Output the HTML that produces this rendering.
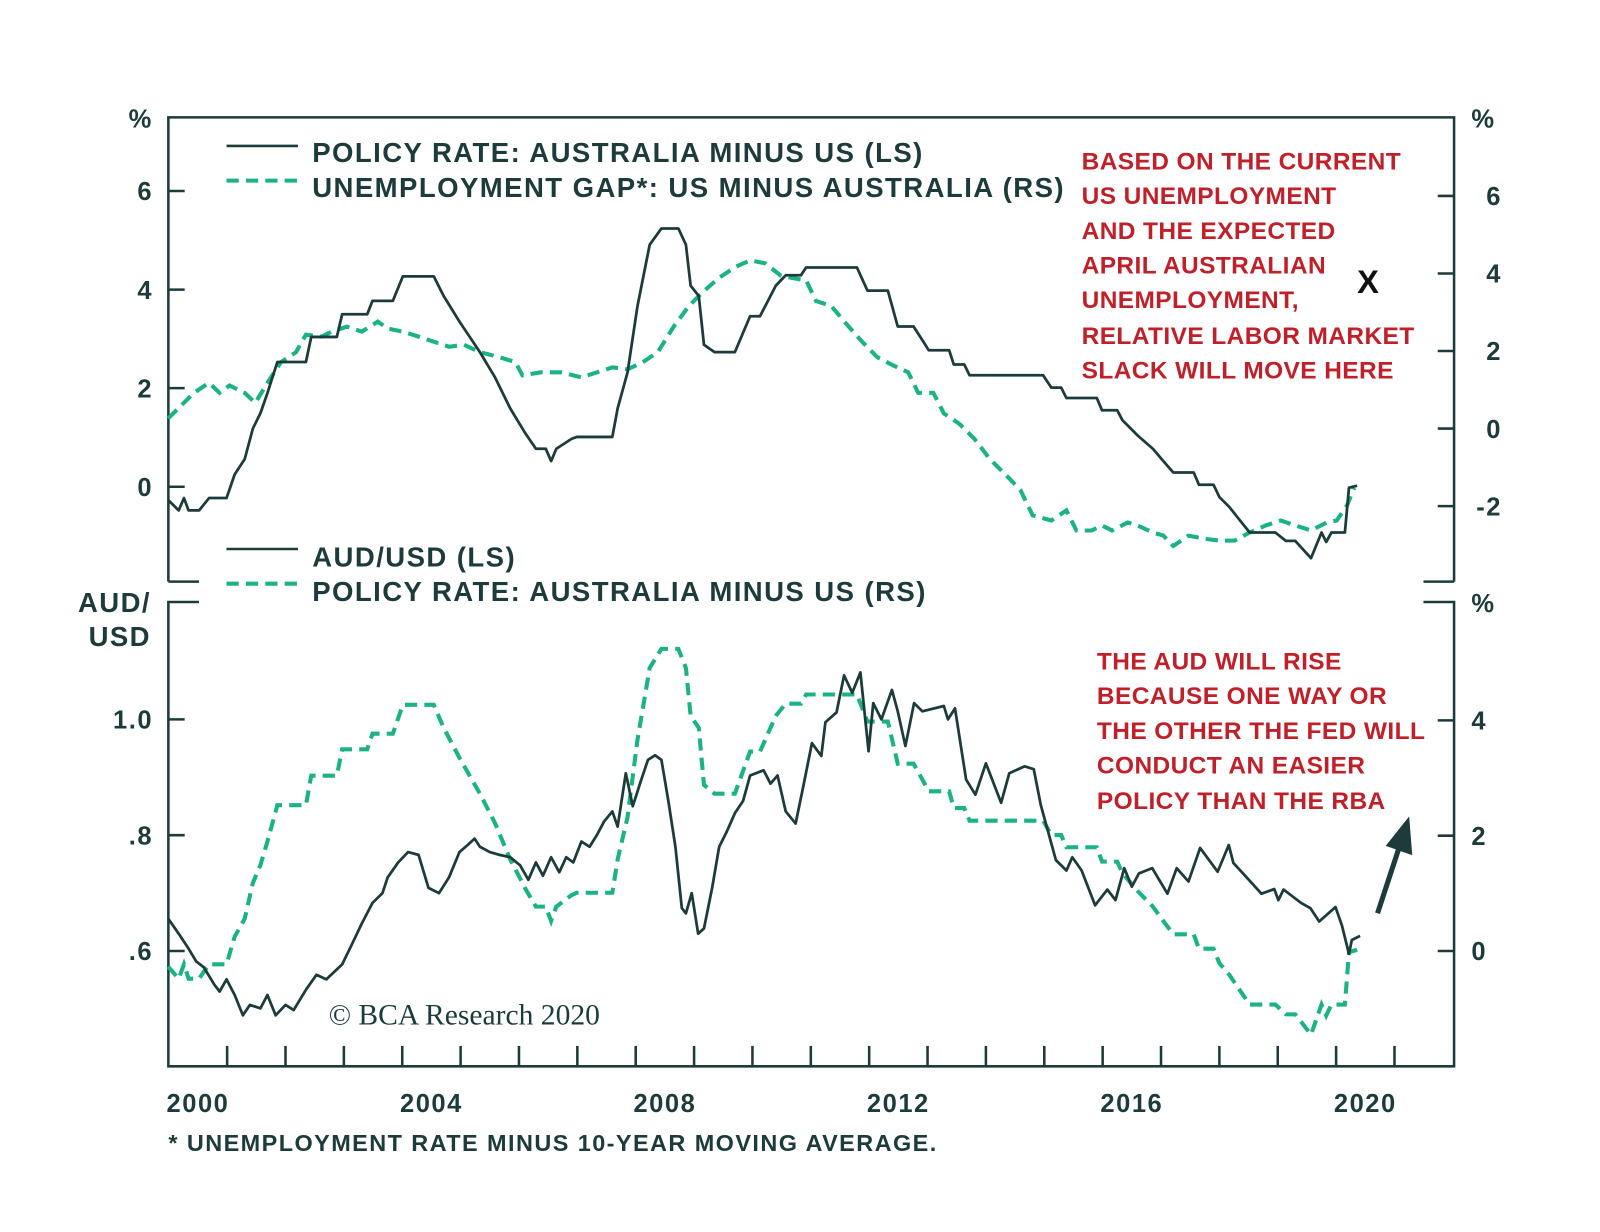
<!DOCTYPE html>
<html><head><meta charset="utf-8"><style>
html,body{margin:0;padding:0;background:#fff;}
svg{display:block;font-family:"Liberation Sans",Arial,sans-serif;}
.tk{font-size:25px;font-weight:bold;fill:#1d3b3b;letter-spacing:1.5px;}
.lg{font-size:27px;font-weight:bold;fill:#1d3b3b;letter-spacing:1.4px;}
.an{font-size:24px;font-weight:bold;fill:#c0202a;letter-spacing:0.4px;}
</style></head><body>
<svg id="chart" width="1600" height="1232" viewBox="0 0 1600 1232">
<g transform="scale(1.0204)">
<g id="frame" stroke="#1d3b3b" stroke-width="2.5" fill="none">
 <path d="M165,570 L165,115 L1425,115 L1425,570 M1395,570 L1425,570 M165,570 L195,570"/>
 <path d="M195,590 L165,590 L165,1045 L1425,1045 L1425,590 L1395,590"/>
</g>
<g id="ticks" stroke="#1d3b3b" stroke-width="2.5"></g>
<g id="labels"></g>
<g id="series"></g>
<text class="tk" x="126" y="125">%</text>
<text class="tk" x="1442" y="125">%</text>
<text class="tk" x="1442" y="600">%</text>
<text class="lg" x="148" y="600" text-anchor="end">AUD/</text>
<text class="lg" x="148" y="633" text-anchor="end">USD</text>
<g>
 <line x1="222" y1="143" x2="292" y2="143" stroke="#1d3b3b" stroke-width="2.5"/>
 <text class="lg" x="306" y="159">POLICY RATE: AUSTRALIA MINUS US (LS)</text>
 <line x1="222" y1="177" x2="292" y2="177" stroke="#1bb286" stroke-width="4" stroke-dasharray="12,7"/>
 <text class="lg" x="306" y="193">UNEMPLOYMENT GAP*: US MINUS AUSTRALIA (RS)</text>
</g>
<g>
 <line x1="222" y1="538" x2="292" y2="538" stroke="#1d3b3b" stroke-width="2.5"/>
 <text class="lg" x="306" y="555">AUD/USD (LS)</text>
 <line x1="222" y1="572" x2="292" y2="572" stroke="#1bb286" stroke-width="4" stroke-dasharray="12,7"/>
 <text class="lg" x="306" y="589">POLICY RATE: AUSTRALIA MINUS US (RS)</text>
</g>
<g>
 <text class="an" x="1060" y="166">BASED ON THE CURRENT</text>
 <text class="an" x="1060" y="200">US UNEMPLOYMENT</text>
 <text class="an" x="1060" y="234">AND THE EXPECTED</text>
 <text class="an" x="1060" y="268">APRIL AUSTRALIAN</text>
 <text class="an" x="1060" y="302">UNEMPLOYMENT,</text>
 <text class="an" x="1060" y="337">RELATIVE LABOR MARKET</text>
 <text class="an" x="1060" y="371">SLACK WILL MOVE HERE</text>
</g>
<text x="1330" y="287" font-size="32" font-weight="bold" fill="#111">X</text>
<g>
 <text class="an" x="1075" y="656">THE AUD WILL RISE</text>
 <text class="an" x="1075" y="690">BECAUSE ONE WAY OR</text>
 <text class="an" x="1075" y="724">THE OTHER THE FED WILL</text>
 <text class="an" x="1075" y="758">CONDUCT AN EASIER</text>
 <text class="an" x="1075" y="793">POLICY THAN THE RBA</text>
</g>
<g>
 <line x1="1350" y1="895" x2="1372" y2="828" stroke="#1d3b3b" stroke-width="5"/>
 <polygon points="1381,800 1384,838 1358,829" fill="#1d3b3b"/>
</g>
<text x="322" y="1004" font-family="'Liberation Serif',serif" font-size="29" fill="#1d3b3b">© BCA Research 2020</text>
<text x="165" y="1128" font-size="23" font-weight="bold" fill="#1d3b3b" letter-spacing="1.4">* UNEMPLOYMENT RATE MINUS 10-YEAR MOVING AVERAGE.</text>
</g>
</svg>
<script>
const xYears=[2000,2004,2008,2012,2016,2020];
const topLeftTicks=[0,2,4,6];
const topRightTicks=[-2,0,2,4,6];
const botLeftTicks=[0.6,0.8,1.0];
const botLeftLabels=['.6','.8','1.0'];
const botRightTicks=[0,2,4];
const policyDates=[1999.49,1999.67,1999.76,1999.84,2000.02,2000.19,2000.49,2000.63,2000.80,2000.94,2001.07,2001.19,2001.36,2001.85,2001.94,2002.38,2002.47,2002.90,2002.99,2003.34,2003.51,2004.04,2004.21,2004.48,2004.83,2005.09,2005.35,2005.61,2005.79,2005.96,2006.05,2006.14,2006.40,2006.49,2007.10,2007.19,2007.36,2007.53,2007.74,2007.94,2008.23,2008.36,2008.44,2008.58,2008.67,2008.85,2009.20,2009.46,2009.63,2009.90,2010.07,2010.33,2010.42,2011.29,2011.47,2011.82,2011.99,2012.26,2012.43,2012.52,2012.87,2012.95,2013.13,2013.22,2014.48,2014.62,2014.79,2014.88,2015.40,2015.49,2015.75,2015.84,2016.10,2016.36,2016.54,2016.71,2017.06,2017.15,2017.40,2017.50,2017.67,2017.85,2018.02,2018.46,2018.64,2018.80,2019.07,2019.25,2019.33,2019.42,2019.65,2019.72,2019.86];
const policyValues=[-0.27,-0.48,-0.23,-0.48,-0.48,-0.23,-0.23,0.25,0.56,1.18,1.49,1.9,2.53,2.53,3.04,3.04,3.5,3.5,3.77,3.77,4.27,4.27,3.87,3.35,2.73,2.22,1.59,1.08,0.77,0.77,0.52,0.77,0.97,1.01,1.01,1.59,2.32,3.66,4.91,5.24,5.24,4.91,4.08,3.87,2.88,2.73,2.73,3.46,3.46,4.08,4.29,4.29,4.45,4.45,3.98,3.98,3.25,3.25,2.94,2.77,2.77,2.48,2.48,2.26,2.26,2.01,2.01,1.80,1.80,1.55,1.55,1.35,1.04,0.77,0.52,0.29,0.29,0.04,0.04,-0.21,-0.41,-0.68,-0.93,-0.93,-1.1,-1.1,-1.45,-0.93,-1.12,-0.93,-0.93,-0.02,0.02];
const gapDates=[1999.49,1999.67,1999.93,2000.19,2000.37,2000.54,2000.80,2000.98,2001.19,2001.42,2001.68,2001.85,2002.12,2002.29,2002.55,2002.81,2003.08,2003.25,2003.51,2003.78,2004.04,2004.30,2004.56,2004.83,2005.17,2005.44,2005.56,2005.87,2006.22,2006.57,2006.84,2007.10,2007.36,2007.62,2007.88,2008.15,2008.41,2008.67,2008.93,2009.20,2009.46,2009.72,2009.98,2010.16,2010.42,2010.59,2010.85,2011.12,2011.38,2011.64,2011.91,2012.17,2012.34,2012.60,2012.78,2013.04,2013.30,2013.57,2013.83,2014.09,2014.30,2014.62,2014.88,2015.05,2015.31,2015.49,2015.66,2015.93,2016.10,2016.36,2016.54,2016.71,2016.97,2017.24,2017.50,2017.76,2018.02,2018.29,2018.55,2018.81,2019.07,2019.34,2019.51,2019.69,2019.81];
const gapValues=[0.26,0.53,0.92,1.18,0.92,1.11,0.92,0.66,1.18,1.71,1.97,2.42,2.37,2.50,2.63,2.50,2.76,2.58,2.50,2.37,2.24,2.11,2.16,1.97,1.84,1.71,1.37,1.45,1.45,1.32,1.45,1.58,1.53,1.71,1.97,2.63,3.16,3.55,3.89,4.16,4.34,4.26,3.95,3.89,3.82,3.29,3.16,2.68,2.24,1.84,1.63,1.45,0.92,0.92,0.39,0.13,-0.26,-0.79,-1.18,-1.58,-2.24,-2.37,-2.11,-2.63,-2.63,-2.50,-2.63,-2.42,-2.50,-2.68,-2.76,-3.03,-2.76,-2.84,-2.89,-2.89,-2.68,-2.50,-2.37,-2.50,-2.63,-2.42,-2.37,-1.97,-1.53];
const audDates=[1999.49,1999.67,1999.84,1999.97,2000.10,2000.28,2000.37,2000.49,2000.63,2000.77,2000.89,2001.07,2001.19,2001.33,2001.50,2001.64,2001.85,2002.03,2002.20,2002.47,2002.64,2002.81,2002.99,2003.16,2003.25,2003.43,2003.60,2003.78,2003.95,2004.13,2004.30,2004.48,2004.62,2004.74,2004.83,2005.00,2005.17,2005.35,2005.52,2005.66,2005.79,2005.91,2006.05,2006.19,2006.31,2006.43,2006.57,2006.71,2006.84,2006.96,2007.10,2007.19,2007.33,2007.45,2007.59,2007.71,2007.83,2007.94,2008.06,2008.18,2008.29,2008.36,2008.46,2008.57,2008.67,2008.81,2008.93,2009.06,2009.20,2009.34,2009.46,2009.69,2009.81,2009.93,2010.07,2010.24,2010.37,2010.52,2010.68,2010.75,2010.94,2011.07,2011.21,2011.35,2011.49,2011.57,2011.71,2011.89,2011.99,2012.12,2012.27,2012.41,2012.78,2012.85,2012.97,2013.16,2013.32,2013.50,2013.76,2013.90,2014.16,2014.32,2014.44,2014.70,2014.88,2014.98,2015.14,2015.37,2015.58,2015.72,2015.87,2016.00,2016.12,2016.35,2016.61,2016.77,2016.97,2017.17,2017.47,2017.66,2017.74,2017.94,2018.22,2018.44,2018.51,2018.60,2018.90,2019.06,2019.21,2019.49,2019.60,2019.72,2019.77,2019.91];
const audValues=[0.656,0.630,0.604,0.582,0.572,0.542,0.530,0.551,0.524,0.489,0.507,0.501,0.524,0.489,0.507,0.498,0.533,0.559,0.551,0.577,0.612,0.648,0.683,0.700,0.727,0.753,0.771,0.766,0.709,0.700,0.727,0.771,0.783,0.794,0.780,0.771,0.766,0.762,0.748,0.723,0.753,0.730,0.762,0.736,0.762,0.753,0.789,0.780,0.801,0.824,0.841,0.815,0.907,0.850,0.894,0.930,0.938,0.930,0.859,0.780,0.674,0.665,0.700,0.630,0.639,0.709,0.780,0.806,0.838,0.859,0.903,0.912,0.889,0.903,0.841,0.820,0.884,0.959,0.937,0.995,1.012,1.076,1.046,1.081,0.945,1.028,1.000,1.051,1.014,0.954,1.028,1.014,1.023,1.000,1.019,0.896,0.870,0.924,0.856,0.907,0.919,0.914,0.852,0.757,0.739,0.762,0.739,0.679,0.706,0.688,0.743,0.711,0.734,0.743,0.699,0.743,0.720,0.778,0.737,0.783,0.752,0.730,0.699,0.707,0.688,0.706,0.683,0.674,0.651,0.676,0.644,0.595,0.619,0.626];

const NS='http://www.w3.org/2000/svg';
const xS=t=>194+(t-2000)*57.2;
const yTL=v=>477-48.3*v;
const yTR=v=>420-38*v;
const yBL=v=>932-(v-0.6)*567.5;
const yBR=v=>932-56.5*v;
function mk(tag,attrs,parent){const e=document.createElementNS(NS,tag);for(const k in attrs)e.setAttribute(k,attrs[k]);parent.appendChild(e);return e;}
const ticks=document.getElementById('ticks'),labels=document.getElementById('labels'),series=document.getElementById('series');
topLeftTicks.forEach(v=>{const y=yTL(v);
 const l=mk('line',{x1:165,x2:181,y1:y,y2:y},ticks);
 
 
 const t=mk('text',{x:150,y:y+9,'text-anchor':'end','class':'tk'},labels);t.textContent=v;
 
 });
topRightTicks.forEach(v=>{const y=yTR(v);
 const l=mk('line',{x1:1409,x2:1425,y1:y,y2:y},ticks);
 
 
 const t=mk('text',{x:1472,y:y+9,'text-anchor':'end','class':'tk'},labels);t.textContent=v;
 
 });
botLeftTicks.forEach((v,i)=>{const y=yBL(v);
 const l=mk('line',{x1:165,x2:181,y1:y,y2:y},ticks);
 
 
 const t=mk('text',{x:150,y:y+9,'text-anchor':'end','class':'tk'},labels);t.textContent=botLeftLabels[i];
 
 });
botRightTicks.forEach(v=>{const y=yBR(v);
 const l=mk('line',{x1:1409,x2:1425,y1:y,y2:y},ticks);
 
 
 const t=mk('text',{x:1442,y:y+9,'class':'tk'},labels);t.textContent=v;
 
 });
for(let yr=2000;yr<=2020;yr++){const x=xS(yr+0.5);
 const l=mk('line',{x1:x,x2:x,y1:1045,y2:1025},ticks);
 
 }
xYears.forEach(yr=>{const t=mk('text',{x:xS(yr),y:1090,'text-anchor':'middle','class':'tk'},labels);t.textContent=yr;
 
 });
function path(dates,vals,ys){return dates.map((d,i)=>(i?'L':'M')+xS(d).toFixed(1)+','+ys(vals[i]).toFixed(1)).join(' ');}
const dashed={fill:'none',stroke:'#1bb286','stroke-width':4,'stroke-dasharray':'12,7'};
const solid={fill:'none',stroke:'#1d3b3b','stroke-width':2.7,'stroke-linejoin':'round'};
let p;
p=mk('path',Object.assign({d:path(gapDates,gapValues,yTR)},dashed),series);


p=mk('path',Object.assign({d:path(policyDates,policyValues,yTL)},solid),series);


p=mk('path',Object.assign({d:path(policyDates,policyValues,yBR)},dashed),series);


p=mk('path',Object.assign({d:path(audDates,audValues,yBL)},solid),series);


</script>
</body></html>
